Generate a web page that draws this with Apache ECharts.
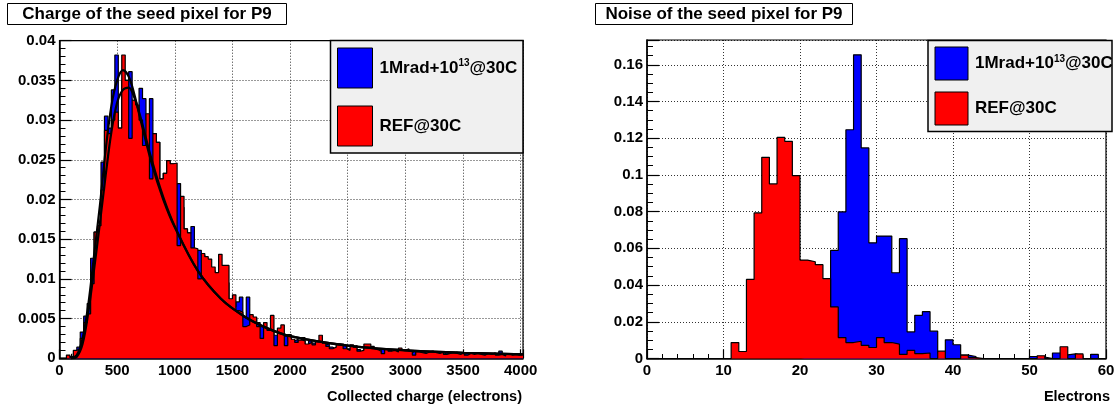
<!DOCTYPE html>
<html lang="en">
<head>
<meta charset="UTF-8">
<title>Seed pixel P9</title>
<script src="https://cdn.jsdelivr.net/npm/echarts@6/dist/echarts.min.js"></script>
<style>
  html, body { margin: 0; padding: 0; background: #fff; }
  #chart { width: 1114px; height: 407px; }
</style>
</head>
<body>
<div id="chart"></div>
<script>
// charge of the seed pixel: bins of 30 electrons from 0 to 4020
const chargeBinWidth = 30;
const chargeIrrad = [ // 1Mrad+10^13@30C
  0, 0, 0.0002, 0.0002, 0.0006, 0.0014, 0.0033, 0.0053, 0.0069, 0.0126,
  0.0159, 0.0167, 0.0247, 0.0305, 0.0290, 0.0338, 0.0382, 0.0290, 0.0350, 0.0350,
  0.0361, 0.0325, 0.0300, 0.0340, 0.0327, 0.0300, 0.0327, 0.0283, 0.0272, 0.0226,
  0.0233, 0.0249, 0.0245, 0.0220, 0.0220, 0.0190, 0.0163, 0.0158, 0.0166, 0.0136,
  0.0136, 0.0130, 0.0120, 0.0110, 0.0110, 0.0100, 0.0105, 0.0100, 0.0095, 0.0070,
  0.0065, 0.0071, 0.0077, 0.0052, 0.0077, 0.0045, 0.0050, 0.0045, 0.0040, 0.0038,
  0.0033, 0.0035, 0.0029, 0.0030, 0.0028, 0.0028, 0.0025, 0.0022, 0.0024, 0.0020,
  0.0026, 0.0016, 0.0022, 0.0019, 0.0020, 0.0022, 0.0017, 0.0018, 0.0014, 0.0012,
  0.0015, 0.0018, 0.0016, 0.0012, 0.0014, 0.0016, 0.0011, 0.0008, 0.0014, 0.0012,
  0.0015, 0.0008, 0.0007, 0.0012, 0.0009, 0.0011, 0.0007, 0.0010, 0.0009, 0.0008,
  0.0011, 0.0007, 0.0009, 0.0006, 0.0008, 0.0007, 0.0005, 0.0008, 0.0006, 0.0007,
  0.0005, 0.0007, 0.0005, 0.0006, 0.0008, 0.0004, 0.0005, 0.0006, 0.0005, 0.0004,
  0.0007, 0.0005, 0.0006, 0.0004, 0.0005, 0.0005, 0.0006, 0.0009, 0.0004, 0.0005,
  0.0004, 0.0003, 0.0005, 0.0004
];
const chargeRef = [ // REF@30C
  0, 0, 0.0004, 0.0001, 0.0010, 0.0012, 0.0025, 0.0045, 0.0056, 0.0094,
  0.0159, 0.0167, 0.0212, 0.0287, 0.0283, 0.0300, 0.0310, 0.0290, 0.0382, 0.0350,
  0.0277, 0.0325, 0.0319, 0.0300, 0.0268, 0.0308, 0.0226, 0.0283, 0.0272, 0.0226,
  0.0233, 0.0249, 0.0245, 0.0246, 0.0142, 0.0204, 0.0163, 0.0158, 0.0139, 0.0138,
  0.0100, 0.0132, 0.0128, 0.0125, 0.0115, 0.0108, 0.0131, 0.0117, 0.0117, 0.0075,
  0.0080, 0.0060, 0.0058, 0.0040, 0.0042, 0.0055, 0.0052, 0.0040, 0.0025, 0.0045,
  0.0035, 0.0054, 0.0016, 0.0038, 0.0042, 0.0016, 0.0030, 0.0024, 0.0020, 0.0023,
  0.0022, 0.0018, 0.0020, 0.0017, 0.0021, 0.0029, 0.0019, 0.0015, 0.0012, 0.0014,
  0.0018, 0.0017, 0.0012, 0.0010, 0.0017, 0.0014, 0.0009, 0.0010, 0.0018, 0.0018,
  0.0012, 0.0011, 0.0009, 0.0006, 0.0012, 0.0009, 0.0010, 0.0008, 0.0013, 0.0010,
  0.0012, 0.0009, 0.0004, 0.0008, 0.0007, 0.0006, 0.0008, 0.0009, 0.0007, 0.0006,
  0.0008, 0.0005, 0.0006, 0.0007, 0.0006, 0.0005, 0.0007, 0.0004, 0.0006, 0.0005,
  0.0006, 0.0005, 0.0004, 0.0006, 0.0005, 0.0007, 0.0004, 0.0005, 0.0003, 0.0006,
  0.0004, 0.0005, 0.0004, 0.0005
];
// fitted curves
const fitX = [100, 150, 200, 250, 300, 350, 400, 450, 500, 550, 600, 650, 700, 800, 900, 1000, 1200, 1400, 1600, 1800, 2000, 2500, 3000, 3500, 4020];
const fitIrrad = [0, 0.0004, 0.0025, 0.0068, 0.0130, 0.0192, 0.0262, 0.0318, 0.0350, 0.0363, 0.0355, 0.0332, 0.0302, 0.0245, 0.0200, 0.0165, 0.0110, 0.0075, 0.0053, 0.0038, 0.0028, 0.0016, 0.0010, 0.0007, 0.0005];
const fitRef = [0, 0.0002, 0.0018, 0.0058, 0.0112, 0.0170, 0.0230, 0.0285, 0.0322, 0.0338, 0.0341, 0.0328, 0.0305, 0.0250, 0.0203, 0.0166, 0.0110, 0.0075, 0.0053, 0.0038, 0.0028, 0.0016, 0.0010, 0.0007, 0.0005];

// noise of the seed pixel: bins of 1 electron from 0 to 60
const noiseBinWidth = 1;
const noiseIrrad = [
  0, 0, 0, 0, 0, 0, 0, 0, 0, 0,
  0, 0, 0, 0, 0, 0, 0, 0, 0, 0,
  0.0010, 0.0030, 0.0080, 0.0200, 0.0589, 0.0799, 0.1246, 0.1654, 0.1147, 0.0630,
  0.0667, 0.0667, 0.0467, 0.0653, 0.0145, 0.0235, 0.0255, 0.0149, 0.0030, 0.0102,
  0.0075, 0.0018, 0.0011, 0, 0, 0, 0, 0, 0, 0,
  0.0011, 0.0008, 0, 0.0030, 0.0020, 0.0025, 0.0015, 0, 0.0022, 0
];
const noiseRef = [
  0, 0, 0, 0, 0, 0, 0, 0, 0, 0,
  0, 0.0087, 0.0038, 0.0431, 0.0793, 0.1096, 0.0951, 0.1205, 0.1183, 0.0996,
  0.0536, 0.0527, 0.0511, 0.0435, 0.0281, 0.0114, 0.0087, 0.0094, 0.0072, 0.0060,
  0.0114, 0.0087, 0.0078, 0.0022, 0.0044, 0.0027, 0.0030, 0, 0.0040, 0,
  0, 0.0018, 0.0005, 0, 0, 0, 0, 0, 0, 0,
  0, 0.0015, 0, 0, 0.0064, 0, 0.0025, 0, 0, 0
];

const font = '"Liberation Sans", Arial, Helvetica, sans-serif';

// bin contents -> points at the bin edges for a step line
function toSteps(values, width) {
  let pts = values.map((v, i) => [i * width, v]);
  pts.push([values.length * width, values[values.length - 1]]);
  return pts;
}

function xAxisOf(idx, max, interval, showMax) {
  return {
    type: 'value', gridIndex: idx, min: 0, max: max, interval: interval,
    axisLine: { show: true, onZero: false, lineStyle: { color: '#000', width: 1.5 } },
    axisTick: { show: true, inside: true, length: 9, lineStyle: { color: '#000', width: 1.2 } },
    minorTick: { show: true, splitNumber: 5, length: 4.5, lineStyle: { color: '#000', width: 1 } },
    axisLabel: {
      color: '#000', fontFamily: font, fontWeight: 'bold', fontSize: 15, margin: 5, showMaxLabel: showMax,
      formatter: v => String(v)
    },
    splitLine: { show: true, lineStyle: { color: '#000', type: [1, 2], width: 1, opacity: 0.8 } }
  };
}

function yAxisOf(idx, max, interval, minor, showMax) {
  return {
    type: 'value', gridIndex: idx, min: 0, max: max, interval: interval,
    axisLine: { show: true, lineStyle: { color: '#000', width: 1.5 } },
    axisTick: { show: true, inside: true, length: 12, lineStyle: { color: '#000', width: 1.2 } },
    minorTick: { show: true, splitNumber: minor, length: 6, lineStyle: { color: '#000', width: 1 } },
    axisLabel: {
      color: '#000', fontFamily: font, fontWeight: 'bold', fontSize: 15, margin: 4, showMaxLabel: showMax,
      formatter: v => String(+v.toFixed(4))
    },
    splitLine: { show: true, lineStyle: { color: '#000', type: [1, 2], width: 1, opacity: 0.8 } }
  };
}

function histo(idx, values, width, color, z) {
  return {
    type: 'line', xAxisIndex: idx, yAxisIndex: idx, step: 'end', symbol: 'none', z: z,
    data: toSteps(values, width),
    lineStyle: { color: '#000', width: 1.2 },
    areaStyle: { color: color, opacity: 1 },
    emphasis: { disabled: true }
  };
}

function fit(xs, ys) {
  return {
    type: 'line', xAxisIndex: 0, yAxisIndex: 0, smooth: 0.35, symbol: 'none', z: 6,
    data: xs.map((x, i) => [x, ys[i]]),
    lineStyle: { color: '#000', width: 2.2 },
    emphasis: { disabled: true }
  };
}

// title box, legend box and axis titles
function titleBox(x, w, text) {
  return [
    { type: 'rect', shape: { x: x, y: 3.5, width: w, height: 21 }, style: { fill: '#fff', stroke: '#000', lineWidth: 1 } },
    { type: 'text', x: x + w / 2, y: 14, style: { text: text, fill: '#000', font: 'bold 17px ' + font, align: 'center', verticalAlign: 'middle' } }
  ];
}

function legendBox(x, y, w, h, sw, rows) {
  let els = [{ type: 'rect', shape: { x: x, y: y, width: w, height: h }, style: { fill: '#f0f0f0', stroke: '#000', lineWidth: 1.5 }, z: 10 }];
  rows.forEach(r => {
    els.push({ type: 'rect', shape: { x: x + 7, y: r.y, width: sw.w, height: sw.h }, style: { fill: r.color, stroke: '#000', lineWidth: 1 }, z: 11 });
    els.push({
      type: 'text', x: x + sw.w + 14, y: r.y + sw.h / 2, z: 11,
      style: {
        text: r.text, fill: '#000', font: 'bold 17px ' + font, verticalAlign: 'middle',
        rich: { sup: { fontFamily: font, fontWeight: 'bold', fontSize: 10, fill: '#000', padding: [0, 0, 9, 0] } }
      }
    });
  });
  return els;
}

function axisTitle(right, text) {
  return { type: 'text', x: right, y: 397, style: { text: text, fill: '#000', font: 'bold 14.5px ' + font, align: 'right', verticalAlign: 'middle' } };
}

let chart = echarts.init(document.getElementById('chart'), null, { renderer: 'canvas' });
chart.setOption({
  animation: false,
  backgroundColor: '#fff',
  grid: [
    { left: 59.5, top: 40.7, width: 463.5, height: 317.6, show: true, borderColor: '#000', borderWidth: 1.2, outerBoundsMode: 'none' },
    { left: 647, top: 40, width: 459, height: 318.5, show: true, borderColor: '#000', borderWidth: 1.2, outerBoundsMode: 'none' }
  ],
  xAxis: [xAxisOf(0, chargeBinWidth * chargeRef.length, 500, false), xAxisOf(1, 60, 10, true)],
  yAxis: [yAxisOf(0, 0.04, 0.005, 5, true), yAxisOf(1, 0.1735, 0.02, 4, false)],
  series: [
    histo(0, chargeIrrad, chargeBinWidth, '#0000ff', 2),
    histo(0, chargeRef, chargeBinWidth, '#ff0000', 3),
    fit(fitX, fitIrrad),
    fit(fitX, fitRef),
    histo(1, noiseIrrad, noiseBinWidth, '#0000ff', 2),
    histo(1, noiseRef, noiseBinWidth, '#ff0000', 3)
  ],
  graphic: [].concat(
    titleBox(7.5, 279, 'Charge of the seed pixel for P9'),
    titleBox(595.5, 257, 'Noise of the seed pixel for P9'),
    legendBox(330.5, 40.5, 192.5, 112.5, { w: 35, h: 40 }, [
      { y: 48, color: '#0000ff', text: '1Mrad+10{sup|13}@30C' },
      { y: 106, color: '#ff0000', text: 'REF@30C' }
    ]),
    legendBox(928, 40.5, 184, 91, { w: 33, h: 33 }, [
      { y: 47, color: '#0000ff', text: '1Mrad+10{sup|13}@30C' },
      { y: 92, color: '#ff0000', text: 'REF@30C' }
    ]),
    [axisTitle(522, 'Collected charge (electrons)'), axisTitle(1110, 'Electrons')]
  )
});
</script>
</body>
</html>
